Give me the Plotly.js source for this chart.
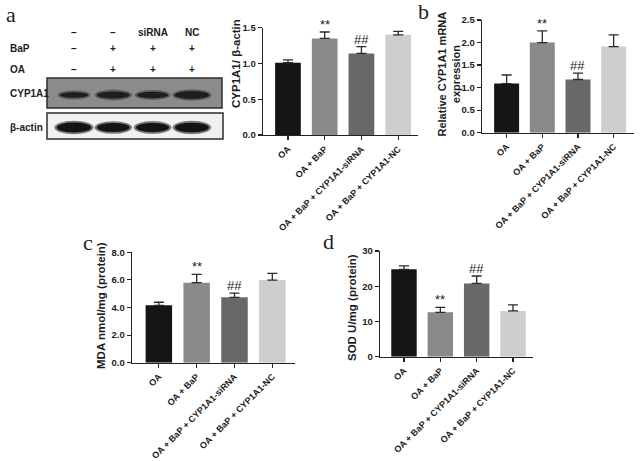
<!DOCTYPE html>
<html>
<head>
<meta charset="utf-8">
<script src="https://cdn.plot.ly/plotly-3.0.1.min.js"></script>
<style>
  body { margin: 0; background: #fff; }
  #fig { width: 643px; height: 461px; }
</style>
</head>
<body>
<div id="fig"></div>
<script>
// groups shared by every panel
const groups = ['OA', 'OA + BaP', 'OA + BaP + CYP1A1-siRNA', 'OA + BaP + CYP1A1-NC'];
const barColors = ['#151515', '#8a8a8a', '#686868', '#cecece'];

// a: CYP1A1 / beta-actin (western blot density)
const wbRatio = [1.01, 1.35, 1.14, 1.40];
const wbSem = [0.04, 0.09, 0.095, 0.05];
// b: relative CYP1A1 mRNA
const mrna = [1.09, 2.00, 1.18, 1.91];
const mrnaSem = [0.19, 0.26, 0.14, 0.26];
// c: MDA nmol/mg protein
const mda = [4.16, 5.80, 4.74, 5.99];
const mdaSem = [0.22, 0.60, 0.30, 0.49];
// d: SOD U/mg protein
const sod = [24.8, 12.6, 20.8, 13.0];
const sodSem = [1.0, 1.4, 2.1, 1.7];
// significance marks
const sigMarks = ['', '**', '##', ''];

// blot lanes
const siRow = ['–', '–', 'siRNA', 'NC'];
const bapRow = ['–', '+', '+', '+'];
const oaRow = ['–', '+', '+', '+'];
const cypBand = [0.5, 0.85, 0.72, 1.0];
const actinBand = [1.0, 0.85, 0.88, 0.95];

const W = 643, H = 461;
const px = v => v / W;
const py = v => 1 - v / H;
const font = 'Liberation Sans, Arial, sans-serif';
const ink = '#1c1c1c';

const panels = [
  { vals: wbRatio, sem: wbSem, ax: '', x: [263, 418], y: [135, 27.7], range: [0, 1.5], dtick: 0.5, fmt: '.1f', xr: [-0.68, 3.54],
    title: 'CYP1A1/ β-actin', tx: 236, ty: 64 },
  { vals: mrna, sem: mrnaSem, ax: '2', x: [482, 634], y: [132.7, 20], range: [0, 2.5], dtick: 0.5, fmt: '.1f', xr: [-0.69, 3.57],
    title: 'Relative CYP1A1 mRNA<br>expression', tx: 448.5, ty: 74 },
  { vals: mda, sem: mdaSem, ax: '3', x: [132, 295], y: [362.7, 252.3], range: [0, 8], dtick: 2, fmt: '.1f', xr: [-0.71, 3.6],
    title: 'MDA nmol/mg (protein)', tx: 101, ty: 306 },
  { vals: sod, sem: sodSem, ax: '4', x: [380, 533], y: [356.7, 251], range: [0, 30], dtick: 10, fmt: 'd', xr: [-0.66, 3.55],
    title: 'SOD U/mg (protein)', tx: 352, ty: 308 }
];

const data = [];
const layout = {
  width: W, height: H,
  margin: { l: 0, r: 0, t: 0, b: 0 },
  paper_bgcolor: '#fff', plot_bgcolor: 'rgba(0,0,0,0)',
  showlegend: false,
  font: { family: font, color: ink },
  annotations: [], shapes: []
};

panels.forEach(p => {
  data.push({
    type: 'bar',
    x: groups.map((g, i) => i),
    y: p.vals,
    width: 0.7,
    marker: { color: barColors },
    error_y: { type: 'data', symmetric: false, array: p.sem, arrayminus: p.sem.map(() => 0),
      color: '#2a2a2a', thickness: 1.3, width: 5 },
    xaxis: 'x' + p.ax, yaxis: 'y' + p.ax,
    hoverinfo: 'y'
  });
  const axStyle = { showline: true, linecolor: '#222', linewidth: 1.3, ticks: 'outside', ticklen: 4,
    tickwidth: 1.2, tickcolor: '#222', showgrid: false, zeroline: false,
    tickfont: { family: font, size: 9.5, weight: 'bold', color: ink } };
  layout['xaxis' + p.ax] = Object.assign({}, axStyle, {
    domain: [px(p.x[0]), px(p.x[1])], anchor: 'y' + p.ax,
    range: p.xr, tickmode: 'array', tickvals: groups.map((g, i) => i), ticktext: groups,
    tickangle: -45, tickfont: { family: font, size: 9, weight: 'bold', color: ink }
  });
  layout['yaxis' + p.ax] = Object.assign({}, axStyle, {
    domain: [py(p.y[0]), py(p.y[1])], anchor: 'x' + p.ax,
    range: p.range, dtick: p.dtick, tickformat: p.fmt
  });
  // y axis title, placed where the reference has it
  layout.annotations.push({
    xref: 'paper', yref: 'paper', x: px(p.tx), y: py(p.ty), text: p.title, textangle: -90,
    showarrow: false, xanchor: 'center', yanchor: 'middle',
    font: { family: font, size: p.ax === '2' ? 11 : 11.5, weight: 'bold', color: ink }
  });
  sigMarks.forEach((m, i) => {
    if (!m) return;
    layout.annotations.push({
      xref: 'x' + p.ax, yref: 'y' + p.ax, x: i, y: p.vals[i] + p.sem[i],
      text: m, showarrow: false, yanchor: 'bottom', yshift: -2,
      font: { family: font, size: 13, color: ink }
    });
  });
});

// panel letters
[['a', 11, 14], ['b', 423, 12], ['c', 88, 243], ['d', 328, 241]].forEach(([t, x, y]) => {
  layout.annotations.push({ xref: 'paper', yref: 'paper', x: px(x), y: py(y), text: t, showarrow: false,
    xanchor: 'center', yanchor: 'middle', font: { family: 'Liberation Serif, DejaVu Serif, serif', size: 22, color: '#222' } });
});

// western blot area: lane index on x5, pixel rows on y5
const lane0 = 74, laneStep = 39.3;
const toLane = v => (v - lane0) / laneStep;
layout.xaxis5 = { domain: [0, px(230)], range: [toLane(0), toLane(230)], visible: false, fixedrange: true, anchor: 'y5' };
layout.yaxis5 = { domain: [py(145), 1], range: [145, 0], visible: false, fixedrange: true, anchor: 'x5' };

const rowFont = { family: font, size: 10, weight: 'bold', color: ink };
[[siRow, 32], [bapRow, 48], [oaRow, 69]].forEach(([row, y]) => {
  row.forEach((t, i) => layout.annotations.push({ xref: 'x5', yref: 'y5', x: i, y: y, text: t,
    showarrow: false, font: rowFont }));
});
[['BaP', 48], ['OA', 69], ['CYP1A1', 93], ['β-actin', 127]].forEach(([t, y]) => {
  layout.annotations.push({ xref: 'paper', yref: 'y5', x: px(8), y: y, text: t, xanchor: 'left',
    showarrow: false, font: rowFont });
});

// blot frames
layout.shapes.push({ type: 'rect', xref: 'x5', yref: 'y5', x0: toLane(47), x1: toLane(222), y0: 78, y1: 108,
  fillcolor: '#8b8b8b', line: { color: '#2e2e2e', width: 1.5 }, layer: 'below' });
layout.shapes.push({ type: 'rect', xref: 'x5', yref: 'y5', x0: toLane(47), x1: toLane(223), y0: 113, y1: 139,
  fillcolor: '#f1f1f1', line: { color: '#2e2e2e', width: 1.5 }, layer: 'below' });

function band(i, strength, yc, hBase, col, halo) {
  const w = 0.55 + 0.33 * strength;
  const h = hBase * (0.35 + 0.65 * strength);
  layout.shapes.push({ type: 'circle', xref: 'x5', yref: 'y5', x0: i - w / 2 - 0.06, x1: i + w / 2 + 0.06,
    y0: yc - h / 2 - 1.8, y1: yc + h / 2 + 1.8, fillcolor: halo, line: { width: 0 } });
  layout.shapes.push({ type: 'circle', xref: 'x5', yref: 'y5', x0: i - w / 2, x1: i + w / 2,
    y0: yc - h / 2, y1: yc + h / 2, fillcolor: col, line: { width: 0 } });
}
cypBand.forEach((s, i) => band(i, s, 95, 8, '#1e1e1e', '#5c5c5c'));
actinBand.forEach((s, i) => band(i, s, 127.5, 10, '#141414', '#7a7a7a'));

Plotly.newPlot('fig', data, layout, { displayModeBar: false, staticPlot: true });
</script>
</body>
</html>
